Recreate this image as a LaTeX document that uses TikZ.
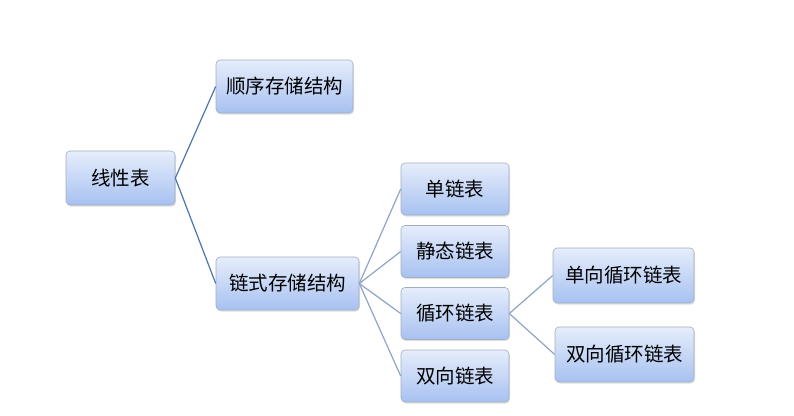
\documentclass[tikz,border=0pt]{standalone}
\usepackage{fontspec}
\setmainfont{Noto Sans CJK SC}
\usetikzlibrary{shadows}
\definecolor{boxtop}{HTML}{E6EDFB}
\definecolor{boxbot}{HTML}{A7C1F1}
\definecolor{boxline}{HTML}{A3AEC2}
\definecolor{linkA}{HTML}{4A76B2}
\definecolor{linkB}{HTML}{8FA3C6}

\begin{document}
\begin{tikzpicture}[x=1pt, y=-1pt,
  box/.style = {draw=boxline, line width=0.6pt, rounded corners=4pt,
    top color=boxtop, bottom color=boxbot,
    drop shadow={opacity=0.25, shadow xshift=1pt, shadow yshift=-1.5pt},
    font=\fontsize{19.5}{22}\selectfont, inner sep=0pt},
  linkone/.style = {draw=linkA, line width=1.2pt},
  linktwo/.style = {draw=linkB, line width=1.2pt}]

\useasboundingbox (0, 0) rectangle (794, 415);

\node[box, minimum width=109, minimum height=54] (XXB) at (120.5, 178) {线性表};
\node[box, minimum width=137, minimum height=53] (SX) at (284.5, 86.5) {顺序存储结构};
\node[box, minimum width=143, minimum height=53] (LS) at (287.5, 283.5) {链式存储结构};

\node[box, minimum width=108, minimum height=52] (DL) at (455, 189) {单链表};
\node[box, minimum width=108, minimum height=52] (JT) at (455, 251.5) {静态链表};
\node[box, minimum width=108, minimum height=52] (XH) at (455, 313.5) {循环链表};
\node[box, minimum width=108, minimum height=52] (SX2) at (455, 376) {双向链表};

\node[box, minimum width=141, minimum height=55] (DXH) at (623.5, 275.5) {单向循环链表};
\node[box, minimum width=139, minimum height=55] (SXH) at (624.5, 354.5) {双向循环链表};

\draw[linkone] (XXB.east) -- (SX.west);
\draw[linkone] (XXB.east) -- (LS.west);

\draw[linktwo] (LS.east) -- (DL.west);
\draw[linktwo] (LS.east) -- (JT.west);
\draw[linktwo] (LS.east) -- (XH.west);
\draw[linktwo] (LS.east) -- (SX2.west);

\draw[linktwo] (XH.east) -- (DXH.west);
\draw[linktwo] (XH.east) -- (SXH.west);

\end{tikzpicture}
\end{document}
